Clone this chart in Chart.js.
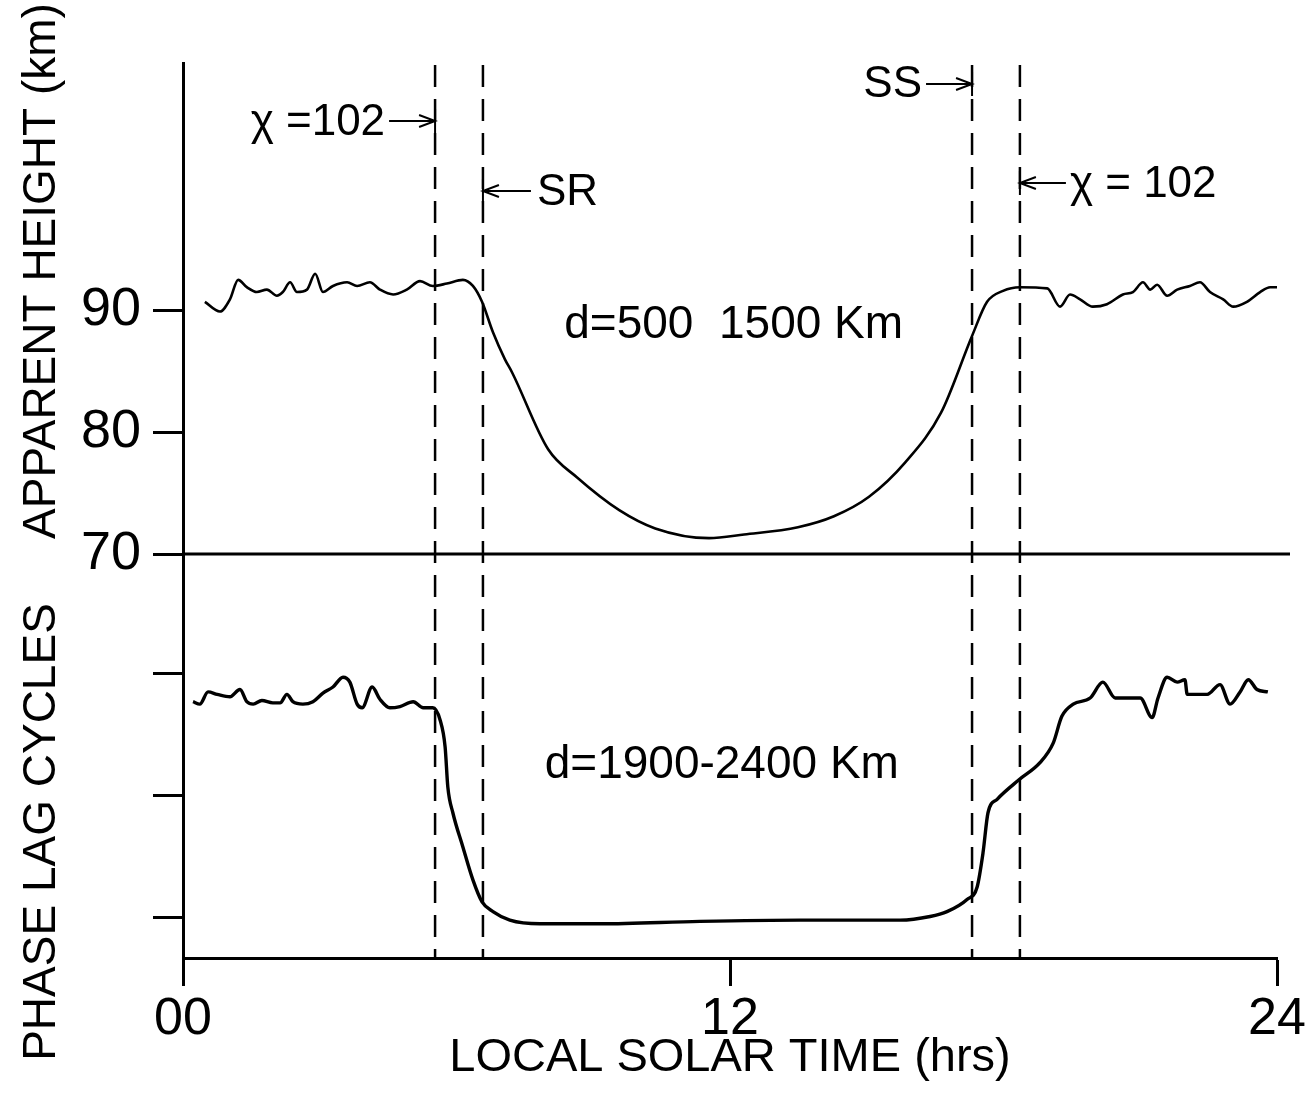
<!DOCTYPE html>
<html lang="en">
<head>
<meta charset="UTF-8">
<title>Apparent height and phase lag vs local solar time</title>
<script src="https://cdn.jsdelivr.net/npm/chart.js"></script>
<style>
  html, body { margin: 0; padding: 0; background: #fff; }
  #wrap { width: 1310px; height: 1102px; position: relative; }
</style>
</head>
<body>
<div id="wrap"><canvas id="lagChart"></canvas></div>
<script>
// upper panel: d = 500-1500 km, apparent reflection height (km)
const heightTimes = [0.48, 0.81, 1.03, 1.21, 1.40, 1.62, 1.84, 2.06, 2.19, 2.35,
  2.50, 2.72, 2.90, 3.07, 3.29, 3.60, 3.82, 4.10, 4.32, 4.61,
  4.91, 5.20, 5.48, 5.79, 6.14, 6.36, 6.56, 6.80, 7.06, 7.22,
  8.01, 8.64, 9.57, 10.36, 11.54, 12.31, 13.49, 14.28, 15.05, 15.84,
  16.63, 17.31, 17.64, 17.99, 18.36, 18.96, 19.24, 19.46, 19.68, 19.96,
  20.27, 20.62, 20.84, 21.06, 21.22, 21.37, 21.59, 21.81, 22.09, 22.31,
  22.53, 22.82, 23.04, 23.34, 23.63, 23.85, 24.0];
const heightKm = [90.7, 89.9, 90.9, 92.5, 91.9, 91.5, 91.7, 91.2, 91.5, 92.3,
  91.5, 91.7, 93.0, 91.5, 92.0, 92.3, 92.0, 92.3, 91.7, 91.3,
  91.7, 92.4, 92.0, 92.2, 92.5, 92.0, 90.7, 88.2, 86.0, 84.9,
  78.6, 76.3, 73.6, 72.1, 71.3, 71.6, 72.2, 73.1, 74.7, 77.5,
  81.6, 87.9, 90.7, 91.6, 91.9, 91.8, 90.3, 91.3, 90.9, 90.3,
  90.5, 91.3, 91.5, 92.3, 91.7, 92.1, 91.2, 91.7, 92.0, 92.3,
  91.5, 90.9, 90.3, 90.7, 91.5, 91.9, 91.9];

// lower panel: d = 1900-2400 km, phase lag (cycles, arbitrary zero)
const phaseTimes = [0.22, 0.37, 0.55, 0.75, 1.03, 1.25, 1.40, 1.54, 1.73, 1.97,
  2.13, 2.28, 2.41, 2.63, 2.85, 3.07, 3.29, 3.51, 3.66, 3.82,
  3.93, 4.15, 4.32, 4.54, 4.76, 5.05, 5.27, 5.48, 5.64, 5.75,
  5.81, 5.92, 6.14, 6.36, 6.56, 6.80, 7.17, 7.83, 9.15, 11.34,
  13.54, 15.73, 16.39, 16.76, 17.20, 17.42, 17.55, 17.66, 17.86, 18.34,
  18.80, 19.09, 19.28, 19.53, 19.90, 20.18, 20.45, 21.00, 21.26, 21.39,
  21.59, 21.81, 21.98, 22.03, 22.47, 22.75, 22.97, 23.19, 23.37, 23.56, 23.80];
const phaseCycles = [1.77, 1.75, 1.85, 1.83, 1.81, 1.87, 1.77, 1.75, 1.78, 1.76,
  1.76, 1.83, 1.77, 1.75, 1.77, 1.84, 1.89, 1.97, 1.93, 1.75,
  1.72, 1.89, 1.79, 1.72, 1.73, 1.77, 1.72, 1.72, 1.62, 1.40,
  1.07, 0.86, 0.58, 0.31, 0.13, 0.05, -0.02, -0.05, -0.05, -0.03,
  -0.02, -0.02, 0.01, 0.05, 0.15, 0.25, 0.53, 0.86, 0.97, 1.13,
  1.27, 1.43, 1.65, 1.75, 1.80, 1.93, 1.80, 1.80, 1.64, 1.80,
  1.97, 1.93, 1.95, 1.83, 1.83, 1.91, 1.75, 1.85, 1.95, 1.87, 1.85];

const timeTicks = [0, 12, 24];
const timeTickLabels = ['00', '12', '24'];
const heightTicks = [70, 80, 90];
const phaseTicks = [0, 1, 2];
// chi = 102 (morning), sunrise, sunset, chi = 102 (evening)
const markerTimes = [5.53, 6.58, 17.31, 18.36];

const FONT = '"Liberation Sans", Arial, sans-serif';

function arrow(ctx, x1, y, x2) {
  // shaft from x1 to x2, open head at x2, short bar at the tip
  const dir = x2 > x1 ? 1 : -1;
  ctx.beginPath();
  ctx.moveTo(x1, y); ctx.lineTo(x2, y);
  ctx.moveTo(x2 - dir * 16, y - 6); ctx.lineTo(x2, y); ctx.lineTo(x2 - dir * 16, y + 6);
  ctx.moveTo(x2, y - 12); ctx.lineTo(x2, y + 12);
  ctx.stroke();
}

const overlay = {
  id: 'overlay',
  afterDatasetsDraw(chart) {
    const { ctx, chartArea: a, scales: { x, y } } = chart;
    ctx.save();
    ctx.strokeStyle = '#000';
    ctx.fillStyle = '#000';

    // divider between the two panels
    const y70 = y.getPixelForValue(heightTicks[0]);
    ctx.lineWidth = 3;
    ctx.beginPath(); ctx.moveTo(a.left, y70); ctx.lineTo(a.right + 13, y70); ctx.stroke();

    // dashed time markers
    const mx = markerTimes.map(t => x.getPixelForValue(t));
    ctx.lineWidth = 2.5;
    ctx.setLineDash([22, 12]);
    mx.forEach(px => {
      ctx.beginPath(); ctx.moveTo(px, a.top + 2); ctx.lineTo(px, a.bottom); ctx.stroke();
    });
    ctx.setLineDash([]);

    // marker labels
    ctx.lineWidth = 2;
    ctx.font = '44px ' + FONT;
    ctx.textBaseline = 'middle';
    ctx.textAlign = 'right';
    ctx.fillText('\u03c7 =102', mx[0] - 50, a.top + 60);
    arrow(ctx, mx[0] - 46, a.top + 58, mx[0]);
    ctx.fillText('SS', mx[2] - 50, a.top + 22);
    arrow(ctx, mx[2] - 46, a.top + 21, mx[2]);
    ctx.textAlign = 'left';
    ctx.fillText('SR', mx[1] + 54, a.top + 130);
    arrow(ctx, mx[1] + 48, a.top + 128, mx[1]);
    ctx.fillText('\u03c7 = 102', mx[3] + 50, a.top + 122);
    arrow(ctx, mx[3] + 46, a.top + 120, mx[3]);

    // panel labels
    ctx.textAlign = 'center';
    ctx.font = '46px ' + FONT;
    ctx.fillText('d=500  1500 Km', x.getPixelForValue(12.08), a.top + 262);
    ctx.fillText('d=1900-2400 Km', x.getPixelForValue(11.82), a.top + 702);

    // y axis titles
    ctx.font = '46px ' + FONT;
    ctx.save();
    ctx.translate(42, 271); ctx.rotate(-Math.PI / 2);
    ctx.fillText('APPARENT HEIGHT (km)', 0, 0);
    ctx.restore();
    ctx.save();
    ctx.translate(42, 832); ctx.rotate(-Math.PI / 2);
    ctx.fillText('PHASE LAG CYCLES', 0, 0);
    ctx.restore();

    ctx.restore();
  }
};

const axisGrid = {
  drawOnChartArea: false, drawTicks: true, tickLength: 30, tickWidth: 3, tickColor: '#000'
};

new Chart(document.getElementById('lagChart'), {
  type: 'line',
  data: {
    datasets: [{
      label: 'd=500 1500 Km',
      data: heightTimes.map((t, i) => ({ x: t, y: heightKm[i] })),
      yAxisID: 'y',
      borderColor: '#000',
      borderWidth: 2.6,
      pointRadius: 0,
      cubicInterpolationMode: 'monotone'
    }, {
      label: 'd=1900-2400 Km',
      data: phaseTimes.map((t, i) => ({ x: t, y: phaseCycles[i] })),
      yAxisID: 'y2',
      borderColor: '#000',
      borderWidth: 3.4,
      pointRadius: 0,
      cubicInterpolationMode: 'monotone'
    }]
  },
  options: {
    responsive: true,
    maintainAspectRatio: false,
    animation: false,
    layout: { padding: { top: 63, right: 33, left: 0, bottom: 0 } },
    plugins: { legend: { display: false }, tooltip: { enabled: false } },
    scales: {
      x: {
        type: 'linear', position: 'bottom', min: 0, max: 24,
        afterBuildTicks: s => { s.ticks = timeTicks.map(v => ({ value: v })); },
        afterFit: s => { s.height = 144; },
        ticks: {
          color: '#000', font: { family: FONT, size: 52 }, padding: 2, maxRotation: 0,
          callback: v => timeTickLabels[timeTicks.indexOf(v)]
        },
        grid: { ...axisGrid, tickLength: 28 },
        border: { color: '#000', width: 3 },
        title: {
          display: true, text: 'LOCAL SOLAR TIME (hrs)', color: '#000',
          font: { family: FONT, size: 47 }, padding: { top: 0, bottom: 16 }
        }
      },
      // stacked axes are laid out bottom-up, so the lower panel comes first
      y2: {
        type: 'linear', position: 'left', stack: 'panels', stackWeight: 404,
        min: -0.33, max: 2.98,
        afterBuildTicks: s => { s.ticks = phaseTicks.map(v => ({ value: v })); },
        afterFit: s => { s.width = 183; },
        ticks: { color: '#000', font: { family: FONT, size: 54 }, padding: 12, callback: () => '' },
        grid: axisGrid,
        border: { color: '#000', width: 3 }
      },
      y: {
        type: 'linear', position: 'left', stack: 'panels', stackWeight: 491,
        min: 70, max: 110.3,
        afterBuildTicks: s => { s.ticks = heightTicks.map(v => ({ value: v })); },
        afterFit: s => { s.width = 183; },
        ticks: { color: '#000', font: { family: FONT, size: 54 }, padding: 12 },
        grid: axisGrid,
        border: { color: '#000', width: 3 }
      }
    }
  },
  plugins: [overlay]
});
</script>
</body>
</html>
